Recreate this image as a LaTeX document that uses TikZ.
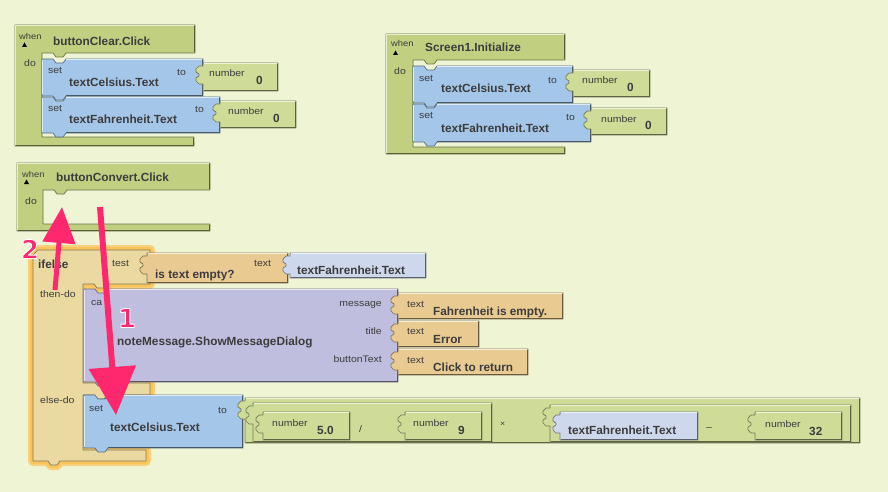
\documentclass[tikz,border=0pt]{standalone}
\usepackage{fontspec}
\setmainfont{Liberation Sans}
\newfontfamily\lblfont[FakeStretch=1.1]{Liberation Sans}
\newfontfamily\stepfont{DejaVu Sans}
\usetikzlibrary{arrows.meta}
\definecolor{bgc}{RGB}{238,244,212}
\definecolor{evt}{RGB}{192,208,128}
\definecolor{numc}{RGB}{206,220,152}
\definecolor{setc}{RGB}{164,198,232}
\definecolor{getc}{RGB}{206,216,236}
\definecolor{ifc}{RGB}{234,218,162}
\definecolor{txtc}{RGB}{233,203,146}
\definecolor{purc}{RGB}{192,190,222}
\definecolor{glowc}{RGB}{250,196,90}
\definecolor{pinkc}{RGB}{255,40,110}
\definecolor{inkc}{RGB}{60,60,60}
\tikzset{
  lbl/.style={anchor=base west, inner sep=0pt, text=inkc, font=\lblfont\fontsize{9.5}{10}\selectfont},
  lblr/.style={lbl, anchor=base east},
  whn/.style={lbl, font=\lblfont\fontsize{8.5}{9}\selectfont},
  ttl/.style={anchor=base west, inner sep=0pt, text=inkc, font=\bfseries\fontsize{11.8}{12}\selectfont},
  numlbl/.style={inner sep=0pt, text=pinkc, font=\stepfont\bfseries\fontsize{26}{26}\selectfont},
  pinkarrow/.style={draw=pinkc, line width=#1}
}
% text filled pink and stroked white (one text, outlined)
\newcommand\outlinedtxt[1]{%
  \special{pdf:literal direct 2 Tr 0.9 w 1 1 1 RG 1 j}#1\special{pdf:literal direct 0 Tr 0.4 w 0 0 0 RG}}
% statement block: x1 y1 x2 y2 colour
\newcommand\stmtblk[5]{%
  \filldraw[fill=#5, draw=#5!55!black, line width=0.7pt, line join=round]
    (#1,#2) -- ({#1+11},#2) -- ({#1+14},{#2+4}) -- ({#1+21},{#2+4}) -- ({#1+24},#2) -- (#3,#2)
    -- (#3,#4) -- ({#1+24},#4) -- ({#1+21},{#4+4}) -- ({#1+14},{#4+4}) -- ({#1+11},#4) -- (#1,#4) -- cycle;
  \draw[#5!45!black, line width=1.2pt] ({#1+24},{#4-0.6}) -- ({#3-0.6},{#4-0.6}) -- ({#3-0.6},{#2+1});
  \draw[#5!35!white, line width=0.8pt] ({#1+24},{#2+0.8}) -- ({#3-1.5},{#2+0.8});
  \draw[#5!35!white, line width=0.8pt] ({#1+0.8},{#4-1.5}) -- ({#1+0.8},{#2+1});
}
% value block with a plug on its left: x1 y1 x2 y2 colour
\newcommand\valblk[5]{%
  \filldraw[fill=#5, draw=#5!55!black, line width=0.7pt, line join=round]
    (#1,#2) -- (#3,#2) -- (#3,#4) -- (#1,#4) -- (#1,{#2+21}) -- ({#1-4},{#2+21}) -- ({#1-7},{#2+18})
    -- ({#1-7},{#2+15}) -- ({#1-4},{#2+13}) -- ({#1-4},{#2+11}) -- ({#1-7},{#2+9}) -- ({#1-7},{#2+6})
    -- ({#1-4},{#2+3}) -- (#1,{#2+3}) -- cycle;
  \draw[#5!45!black, line width=1.2pt] ({#1+1},{#4-0.6}) -- ({#3-0.6},{#4-0.6}) -- ({#3-0.6},{#2+1});
  \draw[#5!35!white, line width=0.8pt] ({#1+1},{#2+0.8}) -- ({#3-1.5},{#2+0.8});
}
% event block: L T R B1 I B2 B3 R2
\newcommand\evtblk[8]{%
  \filldraw[fill=evt, draw=evt!55!black, line width=0.7pt, line join=round]
    (#1,#2) -- (#3,#2) -- (#3,#4) -- ({#5+24},#4) -- ({#5+21},{#4+4}) -- ({#5+14},{#4+4}) -- ({#5+11},#4)
    -- (#5,#4) -- (#5,#6) -- (#8,#6) -- (#8,#7) -- (#1,#7) -- cycle;
  \draw[evt!45!black, line width=1.2pt] ({#3-0.6},{#2+1}) -- ({#3-0.6},{#4-0.6});
  \draw[evt!45!black, line width=1.2pt] ({#1+1},{#7-0.6}) -- ({#8-0.6},{#7-0.6}) -- ({#8-0.6},{#6+1});
  \draw[evt!35!white, line width=0.8pt] ({#1+0.8},{#7-1.5}) -- ({#1+0.8},{#2+0.8}) -- ({#3-1.5},{#2+0.8});
}
\begin{document}
\begin{tikzpicture}[x=1pt,y=-1pt]
\fill[bgc] (0,0) rectangle (888,492);
\useasboundingbox (0,0) rectangle (888,492);

% ---------- buttonClear.Click ----------
\evtblk{15}{25}{195}{53}{42}{137}{146}{194}
\node[whn] (wA) at (19,40) {when};
\fill[black] (22,47) -- (27,47) -- (24.5,42.5) -- cycle;
\node[ttl] (tA) at (53,46) {buttonClear.Click};
\node[lbl] (dA) at (24,67) {do};
\stmtblk{42}{59}{203}{96}{setc}
\node[lbl] (sA1) at (48,74) {set};
\node[ttl] (vA1) at (69,87) {textCelsius.Text};
\node[lbl] (toA1) at (177,76) {to};
\valblk{203}{63}{278}{91}{numc}
\node[lbl] (nA1) at (209,77) {number};
\node[ttl] (zA1) at (256,85) {0};
\stmtblk{42}{97}{220}{133}{setc}
\node[lbl] (sA2) at (48,112) {set};
\node[ttl] (vA2) at (69,124) {textFahrenheit.Text};
\node[lbl] (toA2) at (195,113) {to};
\valblk{220}{101}{296}{128}{numc}
\node[lbl] (nA2) at (228,115) {number};
\node[ttl] (zA2) at (273,122) {0};

% ---------- Screen1.Initialize ----------
\evtblk{386}{34}{565}{60}{413}{147}{154}{565}
\node[whn] (wB) at (391,47) {when};
\fill[black] (393,55) -- (398,55) -- (395.5,50.5) -- cycle;
\node[ttl] (tB) at (425,52) {Screen1.Initialize};
\node[lbl] (dB) at (394,75) {do};
\stmtblk{413}{66}{573}{103}{setc}
\node[lbl] (sB1) at (419,82) {set};
\node[ttl] (vB1) at (441,93) {textCelsius.Text};
\node[lbl] (toB1) at (548,84) {to};
\valblk{573}{70}{650}{97}{numc}
\node[lbl] (nB1) at (582,84) {number};
\node[ttl] (zB1) at (627,92) {0};
\stmtblk{413}{104}{591}{142}{setc}
\node[lbl] (sB2) at (419,119) {set};
\node[ttl] (vB2) at (441,132) {textFahrenheit.Text};
\node[lbl] (toB2) at (566,121) {to};
\valblk{591}{108}{667}{135}{numc}
\node[lbl] (nB2) at (601,122) {number};
\node[ttl] (zB2) at (645,129) {0};

% ---------- buttonConvert.Click ----------
\evtblk{17}{163}{210}{190}{43}{224}{231}{210}
\node[whn] (wC) at (22,177) {when};
\fill[black] (24,184) -- (29,184) -- (26.5,179.5) -- cycle;
\node[ttl] (tC) at (56,181) {buttonConvert.Click};
\node[lbl] (dC) at (25,204) {do};

% ---------- ifelse ----------
\def\ifpath{(38,250) -- (150,250) -- (150,284) -- (107,284) -- (104,288) -- (97,288) -- (94,284) -- (83,284)
  -- (83,383) -- (150,383) -- (150,395) -- (107,395) -- (104,399) -- (97,399) -- (94,395) -- (83,395)
  -- (83,450) -- (146,450) -- (146,461) -- (60,461) -- (57,465) -- (51,465) -- (48,461) -- (33,461)
  -- (33,255) -- cycle}
\draw[glowc!70!bgc, line width=10pt, line join=round] \ifpath;
\draw[glowc, line width=6pt, line join=round] \ifpath;
\filldraw[fill=ifc, draw=ifc!55!black, line width=0.7pt, line join=round] \ifpath;
\node[ttl] (ifl) at (38,268) {ifelse};
\node[lbl] (testl) at (112,266) {test};
\node[lbl] (thenl) at (40,297) {then-do};
\node[lbl] (elsel) at (40,403) {else-do};

% is text empty? + getter
\valblk{147}{253}{288}{283}{txtc}
\node[ttl] (ise) at (155,278) {is text empty?};
\node[lbl] (iset) at (254,266) {text};
\valblk{290}{253}{426}{278}{getc}
\node[ttl] (getA) at (297,274) {textFahrenheit.Text};

% call block
\stmtblk{84}{289}{398}{382}{purc}
\node[lbl] (cal) at (91,305) {ca};
\node[ttl] (calm) at (117,345) {noteMessage.ShowMessageDialog};
\node[lblr] (pm) at (382,306) {message};
\node[lblr] (pt) at (382,334) {title};
\node[lblr] (pb) at (382,362) {buttonText};
\valblk{398}{293}{563}{319}{txtc}
\node[lbl] (t1l) at (407,307) {text};
\node[ttl] (t1) at (433,315) {Fahrenheit is empty.};
\valblk{398}{321}{479}{347}{txtc}
\node[lbl] (t2l) at (407,334) {text};
\node[ttl] (t2) at (433,343) {Error};
\valblk{398}{349}{528}{375}{txtc}
\node[lbl] (t3l) at (407,363) {text};
\node[ttl] (t3) at (433,371) {Click to return};

% else: set textCelsius.Text
\stmtblk{84}{395}{243}{448}{setc}
\node[lbl] (sC) at (89,411) {set};
\node[ttl] (vC) at (110,431) {textCelsius.Text};
\node[lbl] (toC) at (218,413) {to};

% expression
\valblk{245}{398}{860}{443}{numc}
\valblk{253}{403}{492}{442}{numc}
\valblk{263}{412}{350}{440}{numc}
\node[lbl] (n50l) at (272,426) {number};
\node[ttl] (n50) at (317,434) {5.0};
\node[lbl] (divl) at (359,432) {/};
\valblk{405}{412}{482}{440}{numc}
\node[lbl] (n9l) at (413,426) {number};
\node[ttl] (n9) at (458,434) {9};
\node[lbl, font=\lblfont\fontsize{8}{8}\selectfont] (mull) at (500,426) {×};
\valblk{550}{405}{851}{442}{numc}
\valblk{560}{412}{698}{440}{getc}
\node[ttl] (getB) at (568,434) {textFahrenheit.Text};
\node[lbl] (minl) at (706,430) {–};
\valblk{755}{412}{842}{440}{numc}
\node[lbl] (n32l) at (765,427) {number};
\node[ttl] (n32) at (809,435) {32};

% ---------- arrows ----------
\coordinate (a1s) at (100,207);
\coordinate (a1e) at (116,415);
\coordinate (a2s) at (55,290);
\coordinate (a2e) at (62,207);
\draw[pinkarrow=6pt, -{Triangle[width=46pt,length=48pt]}] (a1s) -- (a1e);
\draw[pinkarrow=5pt, -{Triangle[width=32pt,length=36pt]}] (a2s) -- (a2e);

% step labels, pink with a white outline
\node[numlbl] (lab2) at (30,249) {\outlinedtxt{2}};
\node[numlbl] (lab1) at (127,318) {\outlinedtxt{1}};
\end{tikzpicture}
\end{document}
